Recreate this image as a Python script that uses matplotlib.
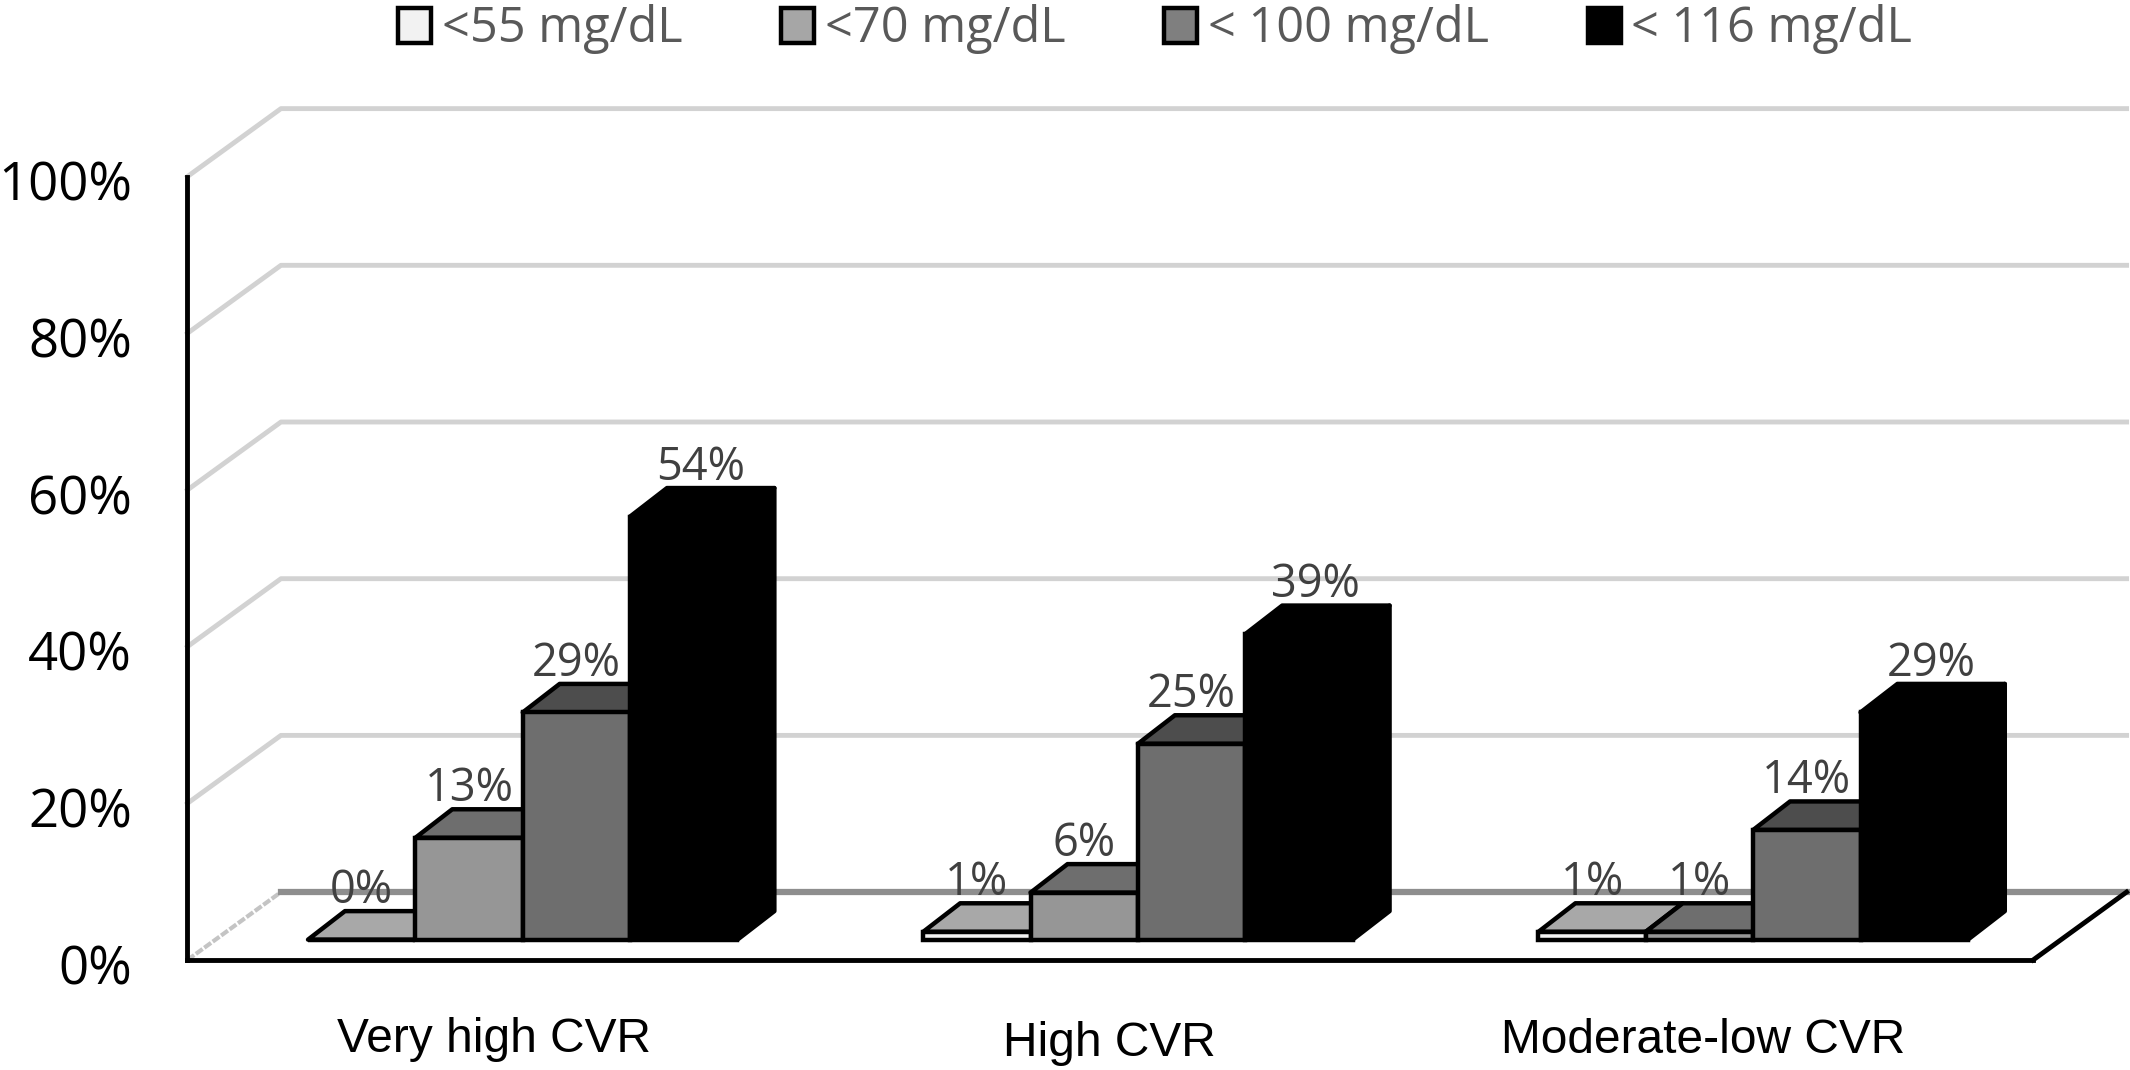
import numpy as np
import matplotlib
matplotlib.use("Agg")
import matplotlib.pyplot as plt
from matplotlib.patches import Polygon, Patch
from matplotlib.transforms import ScaledTranslation

# data
categories = ["Very high CVR", "High CVR", "Moderate-low CVR"]
series_names = ["<55 mg/dL", "<70 mg/dL", "< 100 mg/dL", "< 116 mg/dL"]
lt55 = [0, 1, 1]
lt70 = [13, 6, 1]
lt100 = [29, 25, 14]
lt116 = [54, 39, 29]
y_ticks = [0, 20, 40, 60, 80, 100]

# colours
front_cols = ["#f2f2f2", "#969696", "#6e6e6e", "#000000"]
top_cols = ["#a8a8a8", "#6e6e6e", "#4d4d4d", "#000000"]
legend_cols = ["#f2f2f2", "#a6a6a6", "#7f7f7f", "#000000"]

# fake 3d geometry, axis units (x = one category, y = one percent)
bar_w = 0.1745
bar_dx, bar_dy = 0.06, 3.64
wall_dx, wall_dy = 0.152, 8.67
lift = 2.6

fig = plt.figure(figsize=(21.3, 10.7), dpi=100)
ax = fig.add_axes([0.088, 0.1028, 0.8665, 0.7322])
ax.set_xlim(-0.545, 2.455)
ax.set_ylim(0, 100)
ax.patch.set_alpha(0)

# back wall and floor lines
for t in y_ticks[1:]:
    ax.plot([-0.545, -0.545 + wall_dx, 2.455 + wall_dx], [t, t + wall_dy, t + wall_dy],
            color="#d2d2d2", lw=3.5, clip_on=False, zorder=1)
ax.plot([-0.545, -0.545 + wall_dx], [0, wall_dy], color="#c4c4c4", lw=3, ls=(0, (2, 0.5)), clip_on=False, zorder=1)
ax.plot([-0.545 + wall_dx, 2.455 + wall_dx], [wall_dy, wall_dy], color="#8e8e8e", lw=4.5, clip_on=False, zorder=1)
ax.plot([2.455, 2.455 + wall_dx], [0, wall_dy], color="black", lw=3.5, clip_on=False, zorder=1)

all_series = [lt55, lt70, lt100, lt116]
for s, vals in enumerate(all_series):
    for c, v in enumerate(vals):
        x0 = c - 2 * bar_w + s * bar_w
        x1 = x0 + bar_w
        y1 = lift + v
        z = 3 + s + c * 10
        top = [(x0, y1), (x1, y1), (x1 + bar_dx, y1 + bar_dy), (x0 + bar_dx, y1 + bar_dy)]
        side = [(x1, lift), (x1 + bar_dx, lift + bar_dy), (x1 + bar_dx, y1 + bar_dy), (x1, y1)]
        ax.add_patch(Polygon(side, closed=True, fc=top_cols[s], ec="black", lw=3.2, joinstyle="round", zorder=z, clip_on=False))
        ax.add_patch(Polygon(top, closed=True, fc=top_cols[s], ec="black", lw=3.2, joinstyle="round", zorder=z, clip_on=False))
        ax.bar(x0, v, bar_w, bottom=lift, align="edge", color=front_cols[s], edgecolor="black", lw=3.2, zorder=z + 0.5)
        # black bars have their label pushed over the top face
        lx = (x0 + x1) / 2 + (bar_dx * 0.45 if s == 3 else 0)
        ax.text(lx, y1 + bar_dy + 2.6, "%d%%" % v, ha="center", va="center", fontsize=32.5,
                family="Open Sans", color="#404040", zorder=40, clip_on=False)

for name in ["top", "right"]:
    ax.spines[name].set_visible(False)
for name in ["left", "bottom"]:
    ax.spines[name].set_linewidth(3.5)
    ax.spines[name].set_zorder(2)

ax.set_yticks(y_ticks)
ax.set_yticklabels(["%d%%" % t for t in y_ticks], fontsize=38, family="Open Sans", color="black")
ax.tick_params(axis="y", length=0, pad=40)
shift = ScaledTranslation(0, -4 / 100, fig.dpi_scale_trans)
for lab in ax.get_yticklabels():
    lab.set_transform(lab.get_transform() + shift)

# labels are not centred under the groups in the original
ax.set_xticks([-0.046, 0.954, 1.918])
ax.set_xticklabels(categories, fontsize=34.5, family="Liberation Sans", color="black")
ax.tick_params(axis="x", length=0)
for tick, pad in zip(ax.xaxis.get_major_ticks(), [41, 44, 42]):
    tick.set_pad(pad)

handles = [Patch(fc=col, ec="black", lw=3.2) for col in legend_cols]
fig.legend(handles, series_names, loc="upper left", bbox_to_anchor=(0.187, 0.996), ncol=4, frameon=False,
           prop={"family": "Open Sans", "size": 35}, labelcolor="#595959", handlelength=0.68, handleheight=0.72,
           handletextpad=0.21, columnspacing=2.04, borderpad=0, borderaxespad=0)

fig.savefig("out.png", dpi=100)
